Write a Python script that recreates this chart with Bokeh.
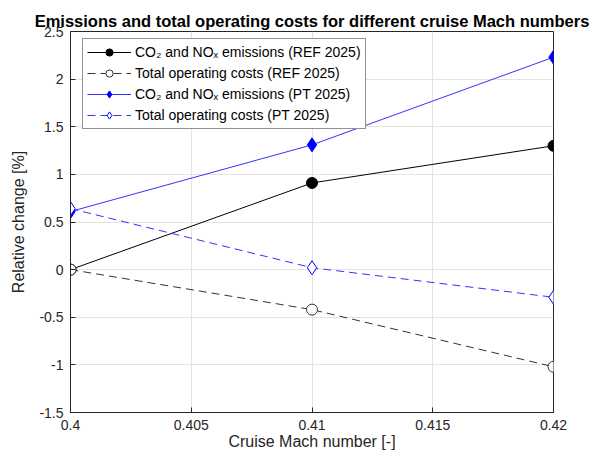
from bokeh.plotting import figure
from bokeh.models import FixedTicker, Legend, LegendItem, Range1d
from bokeh.embed import file_html
from bokeh.resources import INLINE

mach = [0.40, 0.41, 0.42]
ref_emis = [0.0, 0.91, 1.30]
ref_cost = [0.0, -0.42, -1.02]
pt_emis = [0.61, 1.31, 2.23]
pt_cost = [0.64, 0.02, -0.29]

x_ticks = [0.40, 0.405, 0.41, 0.415, 0.42]
x_tick_labels = ["0.4", "0.405", "0.41", "0.415", "0.42"]
y_ticks = [-1.5, -1.0, -0.5, 0.0, 0.5, 1.0, 1.5, 2.0, 2.5]
y_tick_labels = ["-1.5", "-1", "-0.5", "0", "0.5", "1", "1.5", "2", "2.5"]

FONT = "Liberation Sans"
TXT = "#262626"

p = figure(width=594, height=460, output_backend="svg", toolbar_location=None,
           x_range=Range1d(0.40, 0.42), y_range=Range1d(-1.5, 2.5),
           min_border_left=70, min_border_right=41, min_border_top=31, min_border_bottom=48)

p.title.text = "Emissions and total operating costs for different cruise Mach numbers"
p.title.text_font = FONT
p.title.text_font_size = "16.5px"
p.title.text_font_style = "bold"
p.title.align = "center"
p.title.text_color = "#000000"
p.title.standoff = 3

for ax in (p.xaxis[0], p.yaxis[0]):
    ax.axis_line_color = "#262626"
    ax.major_tick_line_color = "#262626"
    ax.major_tick_in = 5
    ax.major_tick_out = 0
    ax.minor_tick_line_color = None
    ax.major_label_text_font = FONT
    ax.major_label_text_font_size = "14px"
    ax.major_label_text_color = TXT
    ax.axis_label_text_font = FONT
    ax.axis_label_text_font_size = "16px"
    ax.axis_label_text_font_style = "normal"
    ax.axis_label_text_color = TXT

p.xaxis.ticker = FixedTicker(ticks=x_ticks)
p.xaxis.major_label_overrides = dict(zip(x_ticks, x_tick_labels))
p.yaxis.ticker = FixedTicker(ticks=y_ticks)
p.yaxis.major_label_overrides = {float(k): v for k, v in zip(y_ticks, y_tick_labels)}
p.yaxis.major_label_overrides.update({int(k): v for k, v in zip(y_ticks, y_tick_labels) if float(k).is_integer()})
p.xaxis.axis_label = "Cruise Mach number [-]"
p.yaxis.axis_label = "Relative change [%]"
p.xaxis.major_label_standoff = 7
p.yaxis.major_label_standoff = 7
p.xaxis.axis_label_standoff = 0
p.yaxis.axis_label_standoff = 9

p.xgrid.grid_line_color = "#e3e3e3"
p.ygrid.grid_line_color = "#e3e3e3"
p.outline_line_color = "#262626"
p.outline_line_alpha = 1.0

r1l = p.line(mach, ref_emis, line_color="black", line_width=1)
r1m = p.scatter(mach, ref_emis, marker="circle", size=11, fill_color="black", line_color="black")
r2l = p.line(mach, ref_cost, line_color="#333333", line_width=1, line_dash="8 5")
r2m = p.scatter(mach, ref_cost, marker="circle", size=11, fill_color="white", line_color="#333333", line_width=1)
r3l = p.line(mach, pt_emis, line_color="#3333ff", line_width=1)
r3m = p.scatter(mach, pt_emis, marker="diamond", size=14, fill_color="#0000ff", line_color="#0000ff")
r4l = p.line(mach, pt_cost, line_color="#3333ff", line_width=1, line_dash="8 5")
r4m = p.scatter(mach, pt_cost, marker="diamond", size=14, fill_color="white", line_color="#0000ff", line_width=1)

legend = Legend(items=[
    LegendItem(label="CO\u2082 and NO\u2093 emissions (REF 2025)", renderers=[r1l, r1m]),
    LegendItem(label="Total operating costs (REF 2025)", renderers=[r2l, r2m]),
    LegendItem(label="CO\u2082 and NO\u2093 emissions (PT 2025)", renderers=[r3l, r3m]),
    LegendItem(label="Total operating costs (PT 2025)", renderers=[r4l, r4m]),
], location=(12, 283))
legend.label_text_font = FONT
legend.label_text_font_size = "14px"
legend.label_text_color = "#000000"
legend.glyph_width = 44
legend.glyph_height = 18
legend.label_height = 18
legend.spacing = 3
legend.padding = 4
legend.margin = 0
legend.label_standoff = 4
legend.border_line_color = "#262626"
legend.border_line_width = 1
legend.background_fill_alpha = 1.0
p.add_layout(legend, "center")

open("out.html", "w").write(file_html(p, INLINE))
